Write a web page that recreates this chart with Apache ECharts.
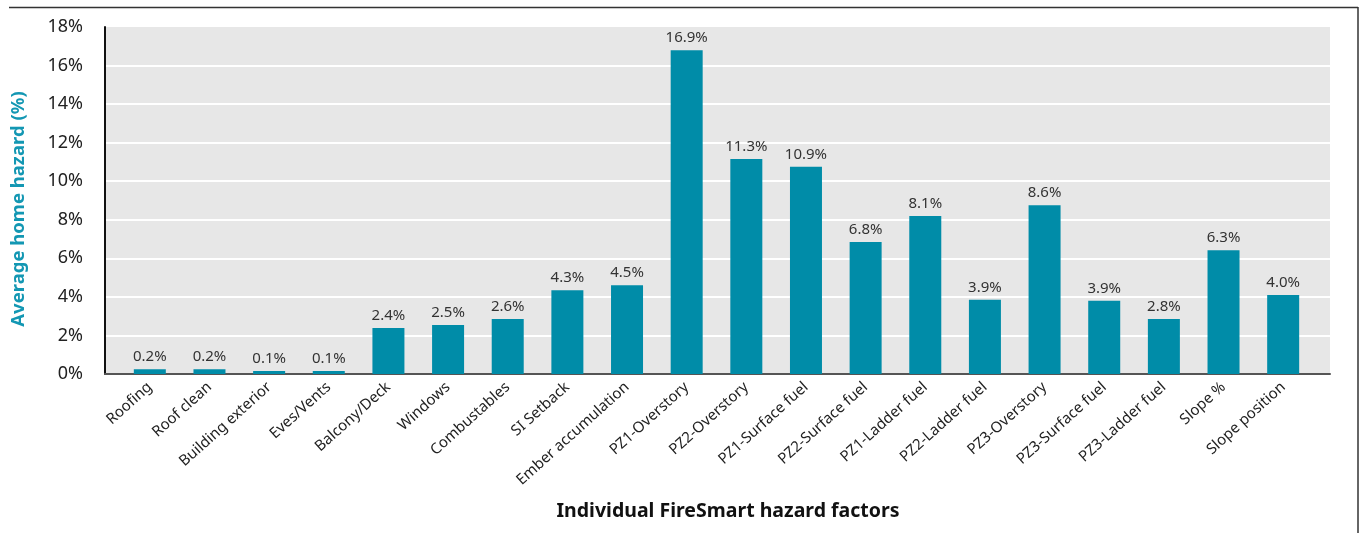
<!DOCTYPE html>
<html>
<head>
<meta charset="utf-8">
<script src="https://cdn.jsdelivr.net/npm/echarts@6/dist/echarts.min.js"></script>
<style>
html,body{margin:0;padding:0;background:#fff;}
#chart{width:1364px;height:533px;}
</style>
</head>
<body>
<div id="chart"></div>
<script>
const categories = ["Roofing","Roof clean","Building exterior","Eves/Vents","Balcony/Deck","Windows","Combustables","SI Setback","Ember accumulation","PZ1-Overstory","PZ2-Overstory","PZ1-Surface fuel","PZ2-Surface fuel","PZ1-Ladder fuel","PZ2-Ladder fuel","PZ3-Overstory","PZ3-Surface fuel","PZ3-Ladder fuel","Slope %","Slope position"];
// bar heights as drawn in the picture (%)
const barValues = [0.25,0.25,0.15,0.15,2.38,2.54,2.85,4.35,4.6,16.8,11.15,10.75,6.85,8.2,3.85,8.75,3.8,2.85,6.42,4.1];
// value labels as printed above the bars
const labelTexts = ["0.2%","0.2%","0.1%","0.1%","2.4%","2.5%","2.6%","4.3%","4.5%","16.9%","11.3%","10.9%","6.8%","8.1%","3.9%","8.6%","3.9%","2.8%","6.3%","4.0%"];
const yMin = 0, yMax = 18, yInterval = 2;
const xTitle = "Individual FireSmart hazard factors";
const yTitle = "Average home hazard (%)";

const chart = echarts.init(document.getElementById('chart'), null, {renderer:'canvas'});
const font = "'Noto Sans', 'Open Sans', sans-serif";
chart.setOption({
  animation:false,
  backgroundColor:'#ffffff',
  grid:[
    {left:105,right:34,top:27,bottom:159,show:true,backgroundColor:'#e7e7e7',borderWidth:0},
    {left:120,right:51,top:27,bottom:159}
  ],
  xAxis:[
    {gridIndex:0,type:'value',min:0,max:1,axisLabel:{show:false},axisTick:{show:false},splitLine:{show:false},
     axisLine:{show:true,onZero:false,lineStyle:{color:'#555',width:2}}},
    {gridIndex:1,type:'category',data:categories,axisLine:{show:false},axisTick:{show:false},
     axisLabel:{interval:0,rotate:42,margin:11,fontSize:15,color:'#222',fontFamily:font}}
  ],
  yAxis:[
    {gridIndex:0,type:'value',min:yMin,max:yMax,interval:yInterval,
     axisLine:{show:true,lineStyle:{color:'#111',width:2}},axisTick:{show:false},
     axisLabel:{formatter:'{value}%',fontSize:18,color:'#222',margin:22,fontFamily:font},
     splitLine:{show:true,showMaxLine:false,showMinLine:false,lineStyle:{color:'#ffffff',width:2}}},
    {gridIndex:1,type:'value',min:yMin,max:yMax,interval:yInterval,show:false,splitLine:{show:false}}
  ],
  graphic:[
    {type:'line',shape:{x1:9,y1:7.5,x2:1358,y2:7.5},style:{stroke:'#333',lineWidth:1.5},silent:true},
    {type:'line',shape:{x1:1358,y1:7,x2:1358,y2:533},style:{stroke:'#333',lineWidth:1.5},silent:true},
    {type:'text',x:19,y:209,rotation:Math.PI/2,style:{text:yTitle,fontSize:18.5,fontWeight:'bold',fill:'#1397b3',fontFamily:font,textAlign:'center',textVerticalAlign:'middle'}},
    {type:'text',x:728,y:511,style:{text:xTitle,fontSize:19.5,fontWeight:'bold',fill:'#111',fontFamily:font,textAlign:'center',textVerticalAlign:'middle'}}
  ],
  series:[{
    type:'bar',xAxisIndex:1,yAxisIndex:1,data:barValues,barWidth:32,
    itemStyle:{color:'#008ca8'},
    label:{show:true,position:'top',distance:5,fontSize:15,color:'#333',fontFamily:font,
      formatter:p=>labelTexts[p.dataIndex]}
  }]
});
</script>
</body>
</html>
